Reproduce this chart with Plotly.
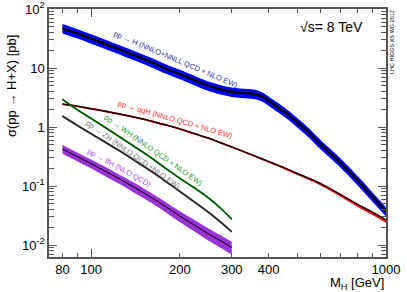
import plotly.graph_objects as go

# ---------------- data ----------------
mass_ggf = [80, 90, 100, 110, 120, 130, 140, 150, 160, 170, 180, 190, 200, 220, 240, 260,
            280, 300, 320, 340, 360, 380, 400, 420, 450, 500, 550, 600, 700, 800, 900, 1000]
xs_ggf = [47, 38.5, 31.5, 26.3, 22.3, 19.0, 16.5, 14.4, 12.6, 11.0, 9.7, 8.7, 7.9, 6.5, 5.4, 4.7,
          4.25, 3.95, 3.8, 3.72, 3.62, 3.3, 2.8, 2.35, 1.85, 1.2, 0.79, 0.51, 0.25, 0.126, 0.066, 0.037]
unc_ggf = 0.18

mass_vbf = [80, 90, 100, 110, 120, 130, 140, 150, 160, 180, 200, 225, 250, 275, 300, 350,
            400, 450, 500, 600, 700, 800, 900, 1000]
xs_vbf = [2.45, 2.25, 2.05, 1.88, 1.73, 1.60, 1.48, 1.37, 1.26, 1.08, 0.93, 0.77, 0.65, 0.54,
          0.46, 0.34, 0.26, 0.205, 0.163, 0.11, 0.072, 0.049, 0.036, 0.0265]
unc_vbf_up = [0.03] * 24
unc_vbf_dn = [0.04] * 16 + [0.05, 0.05, 0.06, 0.07, 0.08, 0.09, 0.1, 0.1]

mass_vh = [80, 90, 100, 110, 120, 130, 140, 150, 160, 180, 200, 225, 250, 275, 300]
xs_wh = [2.95, 1.95, 1.40, 1.03, 0.78, 0.60, 0.47, 0.375, 0.30, 0.196, 0.135, 0.092, 0.063, 0.042, 0.0275]
xs_zh = [1.53, 1.06, 0.77, 0.58, 0.445, 0.35, 0.275, 0.22, 0.178, 0.118, 0.081, 0.053, 0.036, 0.0245, 0.0168]
unc_wh = 0.04
unc_zh = 0.05

xs_tth = [0.424, 0.314, 0.24, 0.186, 0.147, 0.118, 0.095, 0.078, 0.064, 0.044, 0.031, 0.0215,
          0.0155, 0.0118, 0.0091]
unc_tth = [0.17, 0.17, 0.17, 0.18, 0.18, 0.18, 0.19, 0.19, 0.19, 0.2, 0.21, 0.22, 0.23, 0.24, 0.25]

x_tickvals = [80, 100, 200, 300, 400, 1000]
x_ticktext = ["80", "100", "200", "300", "400", "1000"]
x_minor = [90, 500, 600, 700, 800, 900]
x_major_long = [100, 1000]
y_tickvals = [0.01, 0.1, 1, 10, 100]
y_ticktext = ["10<sup>-2</sup>", "10<sup>-1</sup>", "1", "10", "10<sup>2</sup>"]
y_minor = [m * 10 ** e for e in range(-3, 2) for m in range(2, 10)]

# ---------------- figure ----------------
FONT = "Liberation Sans, Arial, Helvetica, sans-serif"
fig = go.Figure()


def band(x, y, up, dn, fillcolor, linecolor, linewidth):
    if not isinstance(up, list):
        up = [up] * len(y)
    if not isinstance(dn, list):
        dn = [dn] * len(y)
    hi = [v * (1 + u) for v, u in zip(y, up)]
    lo = [v * (1 - d) for v, d in zip(y, dn)]
    fig.add_trace(go.Scatter(x=x, y=hi, mode="lines", line=dict(width=0, color=fillcolor, shape="spline"),
                             showlegend=False, hoverinfo="skip"))
    fig.add_trace(go.Scatter(x=x, y=lo, mode="lines", line=dict(width=0, color=fillcolor, shape="spline"),
                             fill="tonexty", fillcolor=fillcolor, showlegend=False, hoverinfo="skip"))
    fig.add_trace(go.Scatter(x=x, y=y, mode="lines", line=dict(width=linewidth, color=linecolor, shape="spline"),
                             showlegend=False))


band(mass_ggf, xs_ggf, unc_ggf, unc_ggf, "#0000ff", "#000000", 2.5)
band(mass_vbf, xs_vbf, unc_vbf_up, unc_vbf_dn, "#ff0000", "#1a0000", 1.5)
band(mass_vh, xs_wh, unc_wh, unc_wh, "#2a9a2a", "#004f00", 1.5)
band(mass_vh, xs_zh, unc_zh, unc_zh, "#888888", "#222222", 1.5)
band(mass_vh, xs_tth, unc_tth, unc_tth, "#9a33d6", "#000000", 1.0)

# overlay axis only for the long ticks at 100 and 1000
fig.add_trace(go.Scatter(x=[mass_ggf[0]], y=[xs_ggf[0]], xaxis="x2", yaxis="y2", mode="markers",
                         marker=dict(opacity=0), showlegend=False, hoverinfo="skip"))

L, R, T, B = 49, 21, 9, 35
W, H = 407, 292
pw, ph = W - L - R, H - T - B


def px(x):
    return (x - L) / pw


def py(y):
    return (H - B - y) / ph


xrange = [1.8576, 3.0]
yrange = [-2.203, 2.0]
axcol = "#555555"

fig.update_layout(
    width=W, height=H,
    margin=dict(l=L, r=R, t=T, b=B, autoexpand=False),
    paper_bgcolor="white", plot_bgcolor="white",
    font=dict(family=FONT, size=12, color="black"),
    xaxis=dict(type="log", range=xrange, tickvals=x_tickvals, ticktext=x_ticktext,
               ticks="inside", ticklen=4, tickcolor=axcol, tickwidth=1,
               showline=True, linecolor=axcol, linewidth=1.5, mirror="ticks",
               showgrid=False, zeroline=False,
               minor=dict(tickvals=x_minor, ticks="inside", ticklen=4, tickcolor=axcol, showgrid=False),
               tickfont=dict(size=13, family=FONT)),
    xaxis2=dict(type="log", range=xrange, overlaying="x", side="bottom", tickvals=x_major_long,
                showticklabels=False, ticks="inside", ticklen=8, tickcolor=axcol, mirror="ticks",
                showline=False, showgrid=False, zeroline=False),
    yaxis=dict(type="log", range=yrange, tickvals=y_tickvals, ticktext=y_ticktext,
               ticks="inside", ticklen=8, tickcolor=axcol, tickwidth=1,
               showline=True, linecolor=axcol, linewidth=1.5, mirror="ticks",
               showgrid=False, zeroline=False,
               minor=dict(tickvals=y_minor, ticks="inside", ticklen=5, tickcolor=axcol, showgrid=False),
               tickfont=dict(size=13, family=FONT)),
    yaxis2=dict(type="log", range=yrange, overlaying="y", showticklabels=False, showgrid=False,
                zeroline=False, ticks=""),
)

ann_font = 7.5
annotations = [
    dict(text="pp → H (NNLO+NNLL QCD + NLO EW)", x=px(176), y=py(59), textangle=23, color="#3434a8"),
    dict(text="pp → qqH (NNLO QCD + NLO EW)", x=px(175), y=py(119), textangle=16, color="#ff3030"),
    dict(text="pp → WH (NNLO QCD + NLO EW)", x=px(154), y=py(150), textangle=35, color="#2a9a2a"),
    dict(text="pp → ZH (NNLO QCD +NLO EW)", x=px(133), y=py(154), textangle=35, color="#777777"),
    dict(text="pp → tt̄H (NLO QCD)", x=px(119), y=py(167), textangle=29, color="#a64ee8"),
]
for a in annotations:
    fig.add_annotation(text=a["text"], x=a["x"], y=a["y"], xref="paper", yref="paper",
                       textangle=a["textangle"], showarrow=False,
                       font=dict(size=ann_font, color=a["color"], family=FONT),
                       xanchor="center", yanchor="middle")

fig.add_annotation(text="√s= 8 TeV", x=px(331), y=py(27), xref="paper", yref="paper", showarrow=False,
                   font=dict(size=14, family=FONT, color="black"), xanchor="center", yanchor="middle")
fig.add_annotation(text="LHC HIGGS XS WG 2012", x=px(392), y=py(42), xref="paper", yref="paper",
                   showarrow=False, textangle=-90,
                   font=dict(size=5.5, family=FONT, color="black"), xanchor="center", yanchor="middle")
fig.add_annotation(text="σ(pp → H+X) [pb]", x=px(12), y=py(86), xref="paper", yref="paper",
                   showarrow=False, textangle=-90,
                   font=dict(size=13, family=FONT, color="black"), xanchor="center", yanchor="middle")
fig.add_annotation(text="M<sub>H</sub> [GeV]", x=px(386), y=py(283), xref="paper", yref="paper",
                   showarrow=False, font=dict(size=13, family=FONT, color="black"),
                   xanchor="right", yanchor="middle")

fig.write_html(
    "out.html",
    config={"displayModeBar": False},
    post_script="document.body.style.margin='0';document.body.style.padding='0';"
                "document.documentElement.style.overflow='hidden';",
)
